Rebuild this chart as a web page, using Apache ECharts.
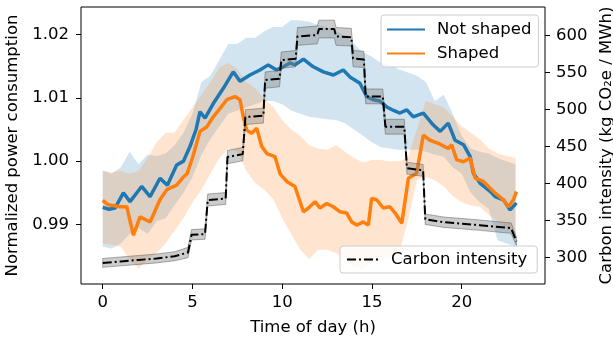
<!DOCTYPE html>
<html>
<head>
<meta charset="utf-8">
<script src="https://cdn.jsdelivr.net/npm/echarts@6/dist/echarts.min.js"></script>
<style>
  html, body { margin: 0; padding: 0; background: #fff; }
  #chart { width: 613px; height: 339px; }
</style>
</head>
<body>
<div id="chart"></div>
<script>
// mean lines (hour, value)
const notShapedHours = [0, 0.35, 0.69, 1.15, 1.52, 2.17, 2.64, 3.19, 3.6, 4.12, 4.5, 4.86, 5.2, 5.42, 5.7, 6.16, 6.72, 7.27, 7.65, 8.2, 8.76, 9.22, 9.69, 10.06, 10.43, 10.71, 11.18, 11.73, 12.29, 12.85, 13.4, 13.77, 14.33, 14.7, 15.07, 15.44, 15.8, 16.2, 16.56, 16.94, 17.3, 17.86, 18.42, 18.8, 19.25, 19.63, 20.1, 20.47, 20.65, 21.03, 21.6, 21.86, 22.32, 22.7, 23.05]
const notShapedValues = [0.9927, 0.9924, 0.9926, 0.995, 0.9936, 0.996, 0.9944, 0.9973, 0.9962, 0.9994, 1.0, 1.0023, 1.005, 1.0078, 1.0068, 1.0091, 1.0115, 1.0141, 1.0126, 1.0136, 1.0144, 1.0152, 1.0144, 1.0149, 1.0155, 1.0152, 1.0161, 1.0149, 1.0141, 1.0136, 1.0144, 1.0133, 1.0123, 1.0102, 1.0097, 1.0095, 1.0086, 1.008, 1.0076, 1.0081, 1.007, 1.0076, 1.0057, 1.0047, 1.006, 1.0033, 1.0026, 1.0007, 0.9981, 0.9965, 0.9952, 0.9944, 0.9939, 0.9923, 0.9934]

const shapedHours = [0, 0.31, 0.96, 1.34, 1.71, 2.08, 2.64, 3.19, 3.57, 4.12, 4.5, 4.7, 5.0, 5.42, 5.79, 6.16, 6.53, 6.91, 7.37, 7.65, 7.83, 8.02, 8.3, 8.58, 8.86, 9.14, 9.6, 9.88, 10.25, 10.71, 11.18, 11.46, 11.83, 12.1, 12.48, 12.85, 13.22, 13.59, 13.87, 14.15, 14.52, 14.8, 14.98, 15.26, 15.63, 16.0, 16.29, 16.66, 17.03, 17.49, 17.86, 18.23, 18.7, 19.25, 19.44, 19.72, 20.1, 20.47, 20.75, 21.21, 21.77, 22.32, 22.6, 22.88, 23.05]
const shapedValues = [0.9938, 0.9931, 0.9928, 0.9928, 0.9883, 0.9912, 0.9904, 0.9939, 0.9955, 0.9962, 0.9975, 0.998, 1.0005, 1.0047, 1.0054, 1.007, 1.0083, 1.0097, 1.0102, 1.0097, 1.007, 1.0049, 1.0044, 1.0052, 1.0023, 1.0012, 1.0007, 0.998, 0.9968, 0.996, 0.992, 0.9926, 0.9936, 0.9926, 0.9933, 0.9928, 0.992, 0.9918, 0.9904, 0.9899, 0.9904, 0.9899, 0.9941, 0.9939, 0.9926, 0.9928, 0.9918, 0.9902, 0.9973, 0.9981, 1.0041, 1.0033, 1.0028, 1.002, 1.0026, 1.0002, 0.9999, 1.0005, 0.9973, 0.9968, 0.9952, 0.9939, 0.9928, 0.9939, 0.9952]

// spread bands, every half hour
const bandHours = [0, 0.5, 1, 1.5, 2, 2.5, 3, 3.5, 4, 4.5, 5, 5.5, 6, 6.5, 7, 7.5, 8, 8.5, 9, 9.5, 10, 10.5, 11, 11.5, 12, 12.5, 13, 13.5, 14, 14.5, 15, 15.5, 16, 16.5, 17, 17.5, 18, 18.5, 19, 19.5, 20, 20.5, 21, 21.5, 22, 22.5, 23]
const notShapedUpper = [0.9985, 0.998, 0.999, 1.0015, 0.9995, 1.001, 1.0008, 1.0012, 1.0025, 1.0045, 1.0075, 1.0125, 1.0135, 1.016, 1.0185, 1.0185, 1.0195, 1.0195, 1.0205, 1.0212, 1.0212, 1.0223, 1.0222, 1.022, 1.0215, 1.0212, 1.0205, 1.0198, 1.0185, 1.0172, 1.0165, 1.0155, 1.0152, 1.0145, 1.014, 1.0135, 1.0125, 1.0095, 1.0105, 1.0075, 1.004, 1.002, 1.0015, 1.0012, 1.0005, 1.0, 0.9995]
const notShapedLower = [0.9865, 0.9862, 0.987, 0.9885, 0.9895, 0.9885, 0.9905, 0.991, 0.993, 0.995, 0.9975, 1.001, 1.0035, 1.0055, 1.0075, 1.008, 1.0085, 1.009, 1.0095, 1.0095, 1.009, 1.008, 1.0075, 1.007, 1.0068, 1.0066, 1.0065, 1.006, 1.005, 1.004, 1.003, 1.0022, 1.002, 1.0018, 1.0018, 1.0018, 1.0015, 1.001, 1.0007, 0.999, 0.998, 0.995, 0.9935, 0.9925, 0.9875, 0.987, 0.9865]
const shapedUpper = [0.9985, 0.9982, 0.9985, 0.998, 0.9985, 1.0005, 1.003, 1.0045, 1.0045, 1.0065, 1.0085, 1.0105, 1.0125, 1.0148, 1.0155, 1.0145, 1.0125, 1.0115, 1.0098, 1.0085, 1.0065, 1.005, 1.004, 1.0025, 1.002, 1.0018, 1.0025, 1.0015, 1.0005, 0.9998, 1.0002, 1.0002, 1.0, 1.0, 1.0005, 1.005, 1.0095, 1.009, 1.0085, 1.007, 1.0055, 1.0045, 1.0035, 1.002, 1.0012, 1.0008, 1.0005]
const shapedLower = [0.987, 0.9868, 0.9865, 0.9845, 0.983, 0.9845, 0.9855, 0.987, 0.989, 0.991, 0.9935, 0.9955, 0.998, 1.0005, 1.002, 1.0015, 0.9985, 0.9965, 0.9955, 0.994, 0.991, 0.9885, 0.986, 0.9845, 0.986, 0.986, 0.9855, 0.9845, 0.9833, 0.983, 0.984, 0.9845, 0.985, 0.9855, 0.9905, 0.997, 0.9975, 0.997, 0.996, 0.9945, 0.9935, 0.993, 0.9928, 0.9915, 0.9905, 0.9895, 0.988]

// carbon intensity, kg CO2e / MWh (right axis)
const carbonHours = [0, 1, 2, 3, 4, 4.75, 4.95, 5.7, 5.85, 6.85, 6.95, 7.8, 7.95, 8.95, 9.05, 9.85, 9.95, 10.75, 10.85, 11.95, 12.05, 12.9, 13.0, 13.85, 13.95, 14.55, 14.65, 15.6, 15.75, 16.8, 16.95, 17.85, 17.97, 19, 21, 22.75, 23.05]
const carbonValues = [293, 295, 297, 299, 302, 307, 331, 332, 378, 380, 436, 440, 490, 492, 540, 542, 567, 569, 599, 601, 609, 609, 599, 598, 569, 568, 518, 518, 477, 477, 421, 418, 352, 348, 344, 340, 322]
const carbonLower = [287, 289, 291, 293, 296, 300, 324, 325, 370, 372, 427, 431, 480, 482, 529, 531, 556, 558, 587, 589, 597, 597, 587, 586, 558, 557, 508, 508, 467, 467, 413, 410, 345, 341, 337, 333, 316]
const carbonUpper = [299, 301, 303, 305, 308, 314, 338, 339, 386, 388, 445, 449, 500, 502, 551, 553, 578, 580, 611, 613, 621, 621, 611, 610, 580, 579, 528, 528, 487, 487, 429, 426, 359, 355, 351, 347, 328]

const hourTicks = [0, 5, 10, 15, 20]
const powerTicks = [0.99, 1.0, 1.01, 1.02]
const carbonTicks = [300, 350, 400, 450, 500, 550, 600]

const font = 'DejaVu Sans'
const fs = 16.5

const pairs = (xs, ys) => xs.map((x, i) => [x, ys[i]])

const band = (name, xs, lo, hi, yAxisIndex, fill, stroke, z) => ({
  type: 'custom',
  name: name,
  yAxisIndex: yAxisIndex,
  z: z,
  silent: true,
  data: [[xs[0], lo[0]]],
  renderItem(params, api) {
    const pts = []
    for (let i = 0; i < xs.length; i++) pts.push(api.coord([xs[i], hi[i]]))
    for (let i = xs.length - 1; i >= 0; i--) pts.push(api.coord([xs[i], lo[i]]))
    return {
      type: 'polygon',
      shape: { points: pts },
      style: { fill: fill, stroke: stroke || 'none', lineWidth: stroke ? 1 : 0 },
    }
  },
})

const chart = echarts.init(document.getElementById('chart'), null, { renderer: 'canvas' })

const legendBox = {
  backgroundColor: 'rgba(255,255,255,0.8)',
  borderColor: '#cccccc', borderWidth: 1, borderRadius: 3,
  itemStyle: { opacity: 0 },
  textStyle: { fontSize: fs, color: '#000', fontFamily: font, padding: [0, 0, 0, 7] },
}

chart.setOption({
  animation: false,
  textStyle: { fontFamily: font },
  grid: {
    left: 81, top: 7, right: 68, bottom: 55,
    outerBoundsMode: 'none',
    containLabel: false,
    show: true, borderColor: '#000', borderWidth: 1, backgroundColor: 'transparent',
  },
  xAxis: {
    type: 'value',
    min: -1.21, max: 24.64,
    name: 'Time of day (h)',
    nameLocation: 'middle',
    nameGap: 35,
    nameTextStyle: { fontSize: fs, color: '#000', fontFamily: font },
    axisLine: { show: false, onZero: false },
    axisTick: { show: true, length: 5, lineStyle: { color: '#000' }, customValues: hourTicks },
    axisLabel: { fontSize: fs, color: '#000', margin: 10, customValues: hourTicks },
    splitLine: { show: false },
  },
  yAxis: [
    {
      type: 'value',
      min: 0.9806, max: 1.02434,
      name: 'Normalized power consumption',
      nameLocation: 'middle',
      nameGap: 51,
      nameTextStyle: { fontSize: fs, color: '#000', fontFamily: font },
      axisLine: { show: false, onZero: false },
      axisTick: { show: true, length: 5, lineStyle: { color: '#000' }, customValues: powerTicks },
      axisLabel: { fontSize: fs, color: '#000', margin: 12, customValues: powerTicks, formatter: (v) => v.toFixed(2) },
      splitLine: { show: false },
    },
    {
      type: 'value',
      position: 'right',
      min: 264.5, max: 638.8,
      name: 'Carbon intensity (kg CO₂e / MWh)',
      nameLocation: 'middle',
      nameGap: 49,
      nameRotate: 90,
      nameTextStyle: { fontSize: fs, color: '#000', fontFamily: font },
      axisLine: { show: false, onZero: false },
      axisTick: { show: true, length: 5, lineStyle: { color: '#000' }, customValues: carbonTicks },
      axisLabel: { fontSize: fs, color: '#000', margin: 11, customValues: carbonTicks },
      splitLine: { show: false },
    },
  ],
  legend: [
    Object.assign({}, legendBox, {
      data: ['Not shaped', 'Shaped'],
      orient: 'vertical',
      left: 381, top: 15,
      itemWidth: 38, itemHeight: 12, itemGap: 7,
      padding: [6, 7, 5, 5],
    }),
    Object.assign({}, legendBox, {
      data: ['Carbon intensity'],
      left: 340, top: 246,
      itemWidth: 32, itemHeight: 12,
      padding: [5, 10, 5, 6],
    }),
  ],
  series: [
    band('Not shaped band', bandHours, notShapedLower, notShapedUpper, 0, 'rgba(31,119,180,0.2)', null, 1),
    band('Shaped band', bandHours, shapedLower, shapedUpper, 0, 'rgba(255,127,14,0.2)', null, 1),
    {
      name: 'Not shaped',
      type: 'line',
      yAxisIndex: 0,
      z: 2,
      data: pairs(notShapedHours, notShapedValues),
      symbol: 'none',
      color: '#1f77b4',
      lineStyle: { width: 3.5, color: '#1f77b4' },
    },
    {
      name: 'Shaped',
      type: 'line',
      yAxisIndex: 0,
      z: 2,
      data: pairs(shapedHours, shapedValues),
      symbol: 'none',
      color: '#ff7f0e',
      lineStyle: { width: 3.5, color: '#ff7f0e' },
    },
    band('Carbon band', carbonHours, carbonLower, carbonUpper, 1, 'rgba(128,128,128,0.4)', 'rgba(80,80,80,0.45)', 3),
    {
      name: 'Carbon intensity',
      type: 'line',
      yAxisIndex: 1,
      z: 4,
      data: pairs(carbonHours, carbonValues),
      symbol: 'none',
      color: '#000',
      lineStyle: { width: 2, color: '#000', type: [9, 3, 2, 3] },
    },
  ],
})
</script>
</body>
</html>
